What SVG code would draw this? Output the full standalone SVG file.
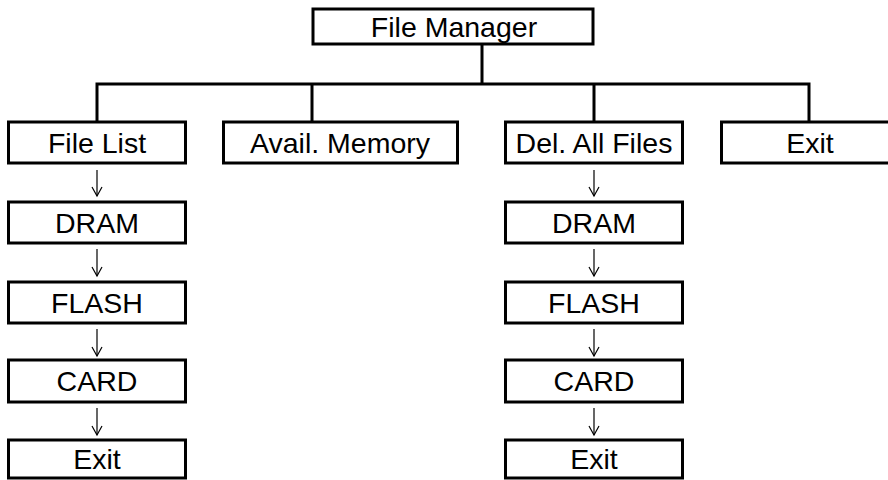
<svg xmlns="http://www.w3.org/2000/svg" width="888" height="480" viewBox="0 0 888 480">
<style>
.box{fill:#fff;stroke:#000;stroke-width:3}
.t{font-family:"Liberation Sans",Arial,sans-serif;font-size:28.5px;fill:#000;text-anchor:middle}
.tree{fill:none;stroke:#000;stroke-width:3}
.arr{fill:none;stroke:#000;stroke-width:1.2;marker-end:url(#ah)}
</style>
<defs>
<marker id="ah" viewBox="0 0 12 12" refX="10" refY="6" markerWidth="12" markerHeight="12" markerUnits="userSpaceOnUse" orient="auto">
<path d="M1,1 L10,6 L1,11" fill="none" stroke="#000" stroke-width="1.2"/>
</marker>
</defs>
<rect width="888" height="480" fill="#fff"/>
<g id="connectors">
<path class="tree" d="M482,44 V84 M97,122 V84 H809 V122 M312,84 V122 M594,84 V122"/>
<line class="arr" x1="97" y1="170" x2="97" y2="196"/>
<line class="arr" x1="97" y1="249" x2="97" y2="276"/>
<line class="arr" x1="97" y1="329" x2="97" y2="356"/>
<line class="arr" x1="97" y1="408" x2="97" y2="435"/>
<line class="arr" x1="594" y1="170" x2="594" y2="196"/>
<line class="arr" x1="594" y1="249" x2="594" y2="276"/>
<line class="arr" x1="594" y1="329" x2="594" y2="356"/>
<line class="arr" x1="594" y1="408" x2="594" y2="435"/>
</g>
<g id="file-manager"><rect class="box" x="313" y="9" width="280" height="35"/><text class="t" x="454" y="36.5">File Manager</text></g>
<g id="file-list"><rect class="box" x="8.5" y="122" width="177" height="41"/><text class="t" x="97" y="152.5">File List</text></g>
<g id="avail-memory"><rect class="box" x="223.5" y="122" width="234" height="41"/><text class="t" x="340" y="152.5">Avail. Memory</text></g>
<g id="del-all-files"><rect class="box" x="505.5" y="122" width="177" height="41"/><text class="t" x="594" y="152.5">Del. All Files</text></g>
<g id="exit-top"><rect class="box" x="721.5" y="122" width="178" height="41"/><text class="t" x="810" y="152.5">Exit</text></g>
<g id="dram-1"><rect class="box" x="8.5" y="202" width="177" height="41"/><text class="t" x="97" y="232.5">DRAM</text></g>
<g id="flash-1"><rect class="box" x="8.5" y="282" width="177" height="41"/><text class="t" x="97" y="312.5">FLASH</text></g>
<g id="card-1"><rect class="box" x="8.5" y="360" width="177" height="42"/><text class="t" x="97" y="391">CARD</text></g>
<g id="exit-1"><rect class="box" x="8.5" y="440" width="177" height="38"/><text class="t" x="97" y="469">Exit</text></g>
<g id="dram-2"><rect class="box" x="505.5" y="202" width="177" height="41"/><text class="t" x="594" y="232.5">DRAM</text></g>
<g id="flash-2"><rect class="box" x="505.5" y="282" width="177" height="41"/><text class="t" x="594" y="312.5">FLASH</text></g>
<g id="card-2"><rect class="box" x="505.5" y="360" width="177" height="42"/><text class="t" x="594" y="391">CARD</text></g>
<g id="exit-2"><rect class="box" x="505.5" y="440" width="177" height="38"/><text class="t" x="594" y="469">Exit</text></g>
</svg>
